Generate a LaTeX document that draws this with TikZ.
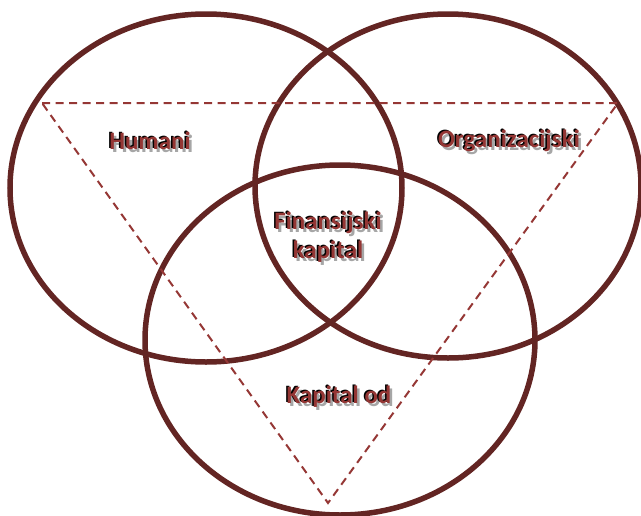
\documentclass[tikz,border=0pt]{standalone}
\usepackage{fontspec}
\setmainfont{Carlito}
\definecolor{ringred}{HTML}{632523}
\definecolor{dashred}{HTML}{953735}
\definecolor{textred}{HTML}{943634}
\definecolor{shadowgray}{HTML}{A6A6A6}
\tikzset{
  ring/.style={draw=ringred,line width=5.5pt},
  guide/.style={draw=dashred,line width=2pt,dash pattern=on 8pt off 5.5pt},
  lbl/.style={font=\bfseries\fontsize{25}{29}\selectfont,align=center,inner sep=0pt}
}
% text with a black edge and a gray shadow
\newcommand\shadowlabel[3]{%
  \node[lbl,text=shadowgray] (#1s) at ($(#2)+(2.5,3)$) {#3};
  \node[lbl,text=black] (#1k) at ($(#2)+(-1.5,-1.2)$) {#3};
  \node[lbl,text=textred] (#1) at (#2) {#3};
}
\usetikzlibrary{calc}
\begin{document}
\begin{tikzpicture}[x=1pt,y=-1pt]
  \useasboundingbox (0,0) rectangle (641,515);
  \coordinate (hc) at (206,188);
  \coordinate (oc) at (448,186);
  \coordinate (kc) at (340,340);
  \coordinate (t1) at (42,103);
  \coordinate (t2) at (618,103);
  \coordinate (t3) at (328,503);

  \draw[ring] (hc) ellipse [x radius=196pt, y radius=174pt];
  \draw[ring] (oc) ellipse [x radius=193pt, y radius=172pt];
  \draw[ring] (kc) ellipse [x radius=195pt, y radius=175pt];
  \draw[guide] (t1) -- (t2) -- (t3) -- cycle;

  \shadowlabel{hum}{150,141}{Humani}
  \shadowlabel{org}{509,141}{Organizacijski}
  \shadowlabel{fin}{328,237}{Finansijski\\kapital}
  \shadowlabel{kod}{339,397}{Kapital od}
\end{tikzpicture}
\end{document}
